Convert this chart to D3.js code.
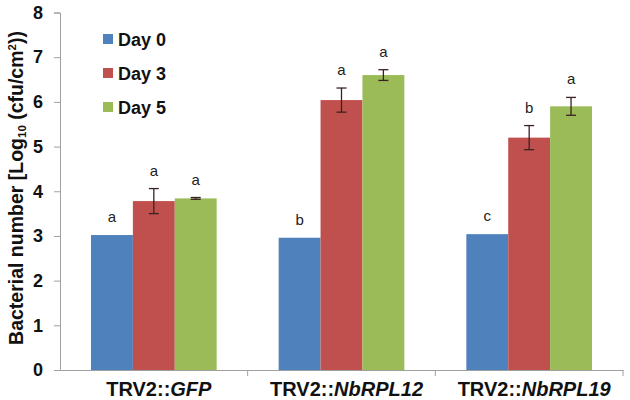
<!DOCTYPE html>
<html><head><meta charset="utf-8">
<script src="https://cdn.jsdelivr.net/npm/d3@7"></script>
<style>body{margin:0;background:#fff}svg{display:block}</style>
</head><body>
<svg id="c" width="630" height="400"></svg>
<script>
const categories = ["GFP", "NbRPL12", "NbRPL19"];
const seriesNames = ["Day 0", "Day 3", "Day 5"];
const colors = ["#4F81BD", "#C0504D", "#9BBB59"];
const day0 = [3.02, 2.96, 3.04];
const day3 = [3.78, 6.04, 5.20];
const day5 = [3.84, 6.60, 5.90];
const err0 = [0, 0, 0];
const err3 = [0.28, 0.27, 0.27];
const err5 = [0.02, 0.12, 0.2];
const letters0 = ["a", "b", "c"];
const letters3 = ["a", "a", "b"];
const letters5 = ["a", "a", "a"];
const yTicks = [0,1,2,3,4,5,6,7,8];

const values = [day0, day3, day5];
const errs = [err0, err3, err5];
const letters = [letters0, letters3, letters5];

const svg = d3.select("#c");
const font = "Arial, 'Liberation Sans', sans-serif";
const x0 = d3.scaleBand().domain(categories).range([60, 623]).paddingInner(0).paddingOuter(0);
const x1 = d3.scaleBand().domain(seriesNames).range([0, x0.bandwidth()]).paddingInner(0).paddingOuter(0.74);
const y = d3.scaleLinear().domain([0, 8]).range([370, 12.5]);

// axes
const yAxis = svg.append("g").attr("transform", "translate(60,0)")
  .call(d3.axisLeft(y).tickValues(yTicks).tickSize(6).tickPadding(11).tickFormat(d3.format("d")));
yAxis.selectAll("path,line").attr("stroke", "#a0a0a0");
yAxis.selectAll("text").attr("font-family", font).attr("font-size", 18).attr("font-weight", "bold").attr("fill", "#111");

const xAxis = svg.append("g").attr("transform", "translate(0,370)")
  .call(d3.axisBottom(x0).tickValues([]).tickSizeOuter(0));
xAxis.select("path").attr("stroke", "#a0a0a0");
// boundary ticks
svg.selectAll(".bt").data(categories).enter().append("line")
  .attr("x1", d => x0(d) + x0.bandwidth()).attr("x2", d => x0(d) + x0.bandwidth())
  .attr("y1", 370).attr("y2", 376).attr("stroke", "#a0a0a0");

// bars
const groups = svg.selectAll(".grp").data(categories).enter().append("g")
  .attr("transform", d => `translate(${x0(d)},0)`);
seriesNames.forEach((s, si) => {
  groups.append("rect")
    .attr("x", x1(s)).attr("width", x1.bandwidth())
    .attr("y", (d, i) => y(values[si][i]))
    .attr("height", (d, i) => y(0) - y(values[si][i]))
    .attr("fill", colors[si]);
});
// error bars
seriesNames.forEach((s, si) => {
  groups.each(function(d, i) {
    const e = errs[si][i];
    if (!e) return;
    const g = d3.select(this);
    const cx = x1(s) + x1.bandwidth() / 2;
    const v = values[si][i];
    g.append("line").attr("x1", cx).attr("x2", cx).attr("y1", y(v + e)).attr("y2", y(v - e)).attr("stroke", "#3a2222").attr("stroke-width", 1.3);
    [v + e, v - e].forEach(t => g.append("line").attr("x1", cx - 5).attr("x2", cx + 5).attr("y1", y(t)).attr("y2", y(t)).attr("stroke", "#3a2222").attr("stroke-width", 1.3));
  });
});
// letters
seriesNames.forEach((s, si) => {
  groups.append("text")
    .attr("x", x1(s) + x1.bandwidth() / 2)
    .attr("y", (d, i) => y(values[si][i] + errs[si][i]) - 13)
    .attr("text-anchor", "middle")
    .attr("font-family", font).attr("font-size", 15).attr("fill", "#222")
    .text((d, i) => letters[si][i]);
});

// x labels
const xl = svg.selectAll(".xl").data(categories).enter().append("text")
  .attr("x", d => x0(d) + x0.bandwidth() / 2 + 5).attr("y", 396)
  .attr("text-anchor", "middle").attr("font-family", font).attr("font-size", 20)
  .attr("font-weight", "bold").attr("fill", "#111");
xl.append("tspan").text("TRV2::");
xl.append("tspan").attr("font-style", "italic").text(d => d);

// y title
const yt = svg.append("text").attr("transform", "translate(23,188) rotate(-90)")
  .attr("text-anchor", "middle").attr("font-family", font).attr("font-size", 19.5)
  .attr("font-weight", "bold").attr("fill", "#111");
yt.append("tspan").text("Bacterial number [Log");
yt.append("tspan").attr("font-size", 11.5).attr("dy", 3).text("10");
yt.append("tspan").attr("dy", -3).text(" (cfu/cm");
yt.append("tspan").attr("font-size", 11.5).attr("dy", -7).text("2");
yt.append("tspan").attr("dy", 7).text("))");

// legend
const lg = svg.selectAll(".lg").data(seriesNames).enter().append("g")
  .attr("transform", (d, i) => `translate(103,${39 + i * 34})`);
lg.append("rect").attr("x", 0).attr("y", -5).attr("width", 10).attr("height", 10).attr("fill", (d, i) => colors[i]);
lg.append("text").attr("x", 15).attr("y", 6.5).attr("font-family", font).attr("font-size", 18)
  .attr("font-weight", "bold").attr("fill", "#111").text(d => d);
</script>
</body></html>
